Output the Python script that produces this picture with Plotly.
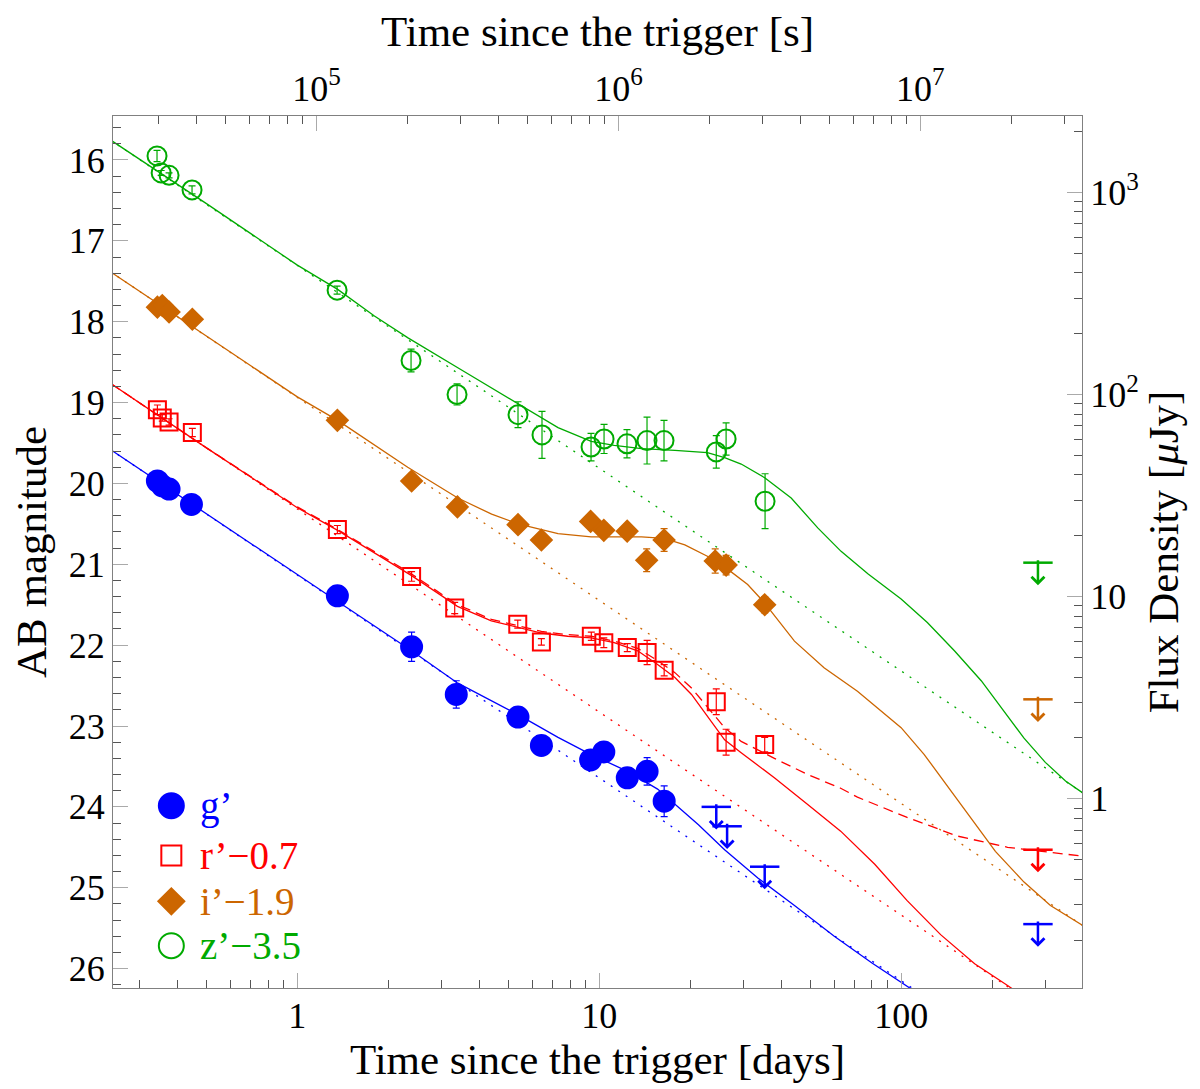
import numpy as np
import plotly.graph_objects as go

# ---- measured photometry (AB mag, offsets already applied) ----
g_t = [0.344, 0.357, 0.376, 0.446, 1.357, 2.39, 3.36, 5.38, 6.43, 9.36, 10.35, 12.38, 14.4, 16.4]
g_m = [19.97, 20.03, 20.07, 20.26, 21.39, 22.02, 22.61, 22.89, 23.24, 23.42, 23.32, 23.64, 23.56, 23.93]
g_e = [0.03, 0.03, 0.03, 0.04, 0.05, 0.18, 0.17, 0.06, 0.06, 0.07, 0.08, 0.07, 0.17, 0.19]
g_ul_t = [24.4, 26.5, 35.3, 283.6]
g_ul_m = [24.00, 24.24, 24.74, 25.45]

r_t = [0.344, 0.357, 0.376, 0.449, 1.357, 2.39, 3.32, 5.37, 6.43, 9.41, 10.35, 12.38, 14.4, 16.4, 24.4, 26.3, 35.3]
r_m = [19.09, 19.19, 19.24, 19.37, 20.57, 21.15, 21.54, 21.74, 21.96, 21.89, 21.97, 22.03, 22.09, 22.31, 22.70, 23.20, 23.23]
r_e = [0.06, 0.04, 0.04, 0.05, 0.05, 0.06, 0.07, 0.05, 0.04, 0.05, 0.06, 0.05, 0.15, 0.07, 0.16, 0.16, 0.09]
r_ul_t = [283.6]
r_ul_m = [24.53]

i_t = [0.344, 0.357, 0.376, 0.449, 1.357, 2.39, 3.39, 5.38, 6.43, 9.36, 10.35, 12.37, 14.35, 16.39, 24.2, 26.3, 35.3]
i_m = [17.82, 17.80, 17.88, 17.97, 19.22, 19.97, 20.29, 20.51, 20.70, 20.47, 20.58, 20.59, 20.95, 20.70, 20.96, 21.01, 21.50]
i_e = [0.03, 0.03, 0.03, 0.03, 0.04, 0.05, 0.07, 0.05, 0.05, 0.06, 0.09, 0.05, 0.14, 0.14, 0.15, 0.12, 0.10]
i_ul_t = [283.6]
i_ul_m = [22.67]

z_t = [0.343, 0.354, 0.376, 0.448, 1.354, 2.38, 3.38, 5.38, 6.46, 9.39, 10.37, 12.35, 14.39, 16.38, 24.4, 26.3, 35.4]
z_m = [15.95, 16.16, 16.19, 16.37, 17.61, 18.48, 18.90, 19.15, 19.40, 19.55, 19.45, 19.51, 19.47, 19.47, 19.61, 19.45, 20.22]
z_e = [0.07, 0.03, 0.03, 0.05, 0.05, 0.14, 0.13, 0.16, 0.29, 0.17, 0.18, 0.175, 0.29, 0.25, 0.20, 0.20, 0.34]
z_ul_t = [283.6]
z_ul_m = [20.98]

# ---- model curves ----
g_fit_t = [0.24, 0.5, 1.0, 1.36, 2.39, 3.4, 5.38, 7.3, 9.36, 12.4, 15.6, 18.3, 21.3, 26, 33.5, 44.3, 60, 80, 104.6, 150, 220]
g_fit_m = [19.58, 20.38, 21.13, 21.46, 22.07, 22.47, 22.86, 23.14, 23.35, 23.56, 23.78, 24.01, 24.22, 24.53, 24.88, 25.22, 25.60, 25.93, 26.22, 26.60, 27.02]
g_pl_t = [0.24, 400]
g_pl_m = [19.58, 27.66]

r_fit_t = [0.24, 0.5, 1.0, 1.36, 2.39, 3.39, 4.39, 5.38, 6.43, 7.86, 9.4, 11.2, 13.4, 15.6, 17.8, 20.2, 22.8, 26, 29.5, 38, 49, 63, 81.7, 104.6, 135, 175, 225, 300, 400]
r_fit_m = [18.76, 19.56, 20.30, 20.58, 21.14, 21.52, 21.70, 21.78, 21.85, 21.89, 21.91, 21.97, 22.07, 22.24, 22.40, 22.61, 22.88, 23.17, 23.33, 23.64, 23.97, 24.30, 24.71, 25.16, 25.58, 25.94, 26.21, 26.53, 26.85]
r_host_t = [0.24, 0.5, 1.0, 1.36, 2.39, 3.39, 4.39, 5.38, 6.43, 7.86, 9.4, 11.2, 13.4, 15.6, 17.8, 20.2, 22.8, 26, 29.5, 38, 49, 63, 71.6, 104.6, 153, 225, 400]
r_host_m = [18.76, 19.56, 20.29, 20.57, 21.12, 21.50, 21.68, 21.76, 21.83, 21.87, 21.89, 21.95, 22.04, 22.19, 22.34, 22.53, 22.76, 23.02, 23.19, 23.40, 23.60, 23.77, 23.88, 24.13, 24.36, 24.50, 24.61]
r_pl_t = [0.24, 400]
r_pl_m = [18.76, 26.85]

i_fit_t = [0.24, 0.5, 1.0, 1.36, 2.05, 2.32, 3.4, 4.4, 5.38, 7.3, 9.4, 13.8, 16.4, 19.2, 22.8, 26.6, 31, 35.3, 44.3, 55.5, 71.6, 90, 99.9, 119, 135, 150, 175, 205, 255, 312, 400]
i_fit_m = [17.38, 18.18, 18.93, 19.22, 19.66, 19.80, 20.18, 20.38, 20.50, 20.62, 20.66, 20.66, 20.68, 20.76, 20.90, 21.06, 21.25, 21.48, 21.95, 22.28, 22.57, 22.88, 23.02, 23.35, 23.62, 23.86, 24.20, 24.55, 24.93, 25.22, 25.47]
i_pl_t = [0.24, 400]
i_pl_m = [17.38, 25.47]

z_fit_t = [0.24, 0.5, 1.0, 1.36, 1.8, 2.325, 3.4, 5.38, 7.3, 9.4, 11.2, 13.8, 17.8, 22.8, 26, 29.5, 35.3, 43.2, 52.9, 63.2, 77.7, 99.9, 122, 150, 184, 219, 255, 300, 350, 400]
z_fit_m = [15.75, 16.54, 17.30, 17.60, 17.93, 18.20, 18.57, 19.02, 19.31, 19.48, 19.53, 19.57, 19.59, 19.62, 19.68, 19.76, 19.93, 20.18, 20.55, 20.84, 21.12, 21.43, 21.72, 22.07, 22.44, 22.82, 23.15, 23.45, 23.68, 23.83]
z_pl_t = [0.24, 400]
z_pl_m = [15.75, 23.83]

BLUE = "#0000FF"
RED = "#FF0000"
ORANGE = "#CC6600"
GREEN = "#00AA00"
FONT = "Liberation Serif"

# axis limits: days and AB magnitude
X_LO, X_HI = -0.6105, 2.5986   # log10(days)
M_BOTTOM, M_TOP = 26.24, 15.456
LOG_DAY = np.log10(86400.0)

fig = go.Figure()

bands = [
    (g_t, g_m, g_e, g_ul_t, g_ul_m, g_fit_t, g_fit_m, g_pl_t, g_pl_m, BLUE, "circle", 21),
    (r_t, r_m, r_e, r_ul_t, r_ul_m, r_fit_t, r_fit_m, r_pl_t, r_pl_m, RED, "square-open", 17),
    (i_t, i_m, i_e, i_ul_t, i_ul_m, i_fit_t, i_fit_m, i_pl_t, i_pl_m, ORANGE, "diamond", 16),
    (z_t, z_m, z_e, z_ul_t, z_ul_m, z_fit_t, z_fit_m, z_pl_t, z_pl_m, GREEN, "circle-open", 19),
]

for t, m, e, ul_t, ul_m, fit_t, fit_m, pl_t, pl_m, c, sym, size in bands:
    # power-law (dotted) and full model (solid)
    fig.add_trace(go.Scatter(x=pl_t, y=pl_m, mode="lines",
                             line=dict(color=c, width=1.3, dash="2px,7px"), hoverinfo="skip"))
    fig.add_trace(go.Scatter(x=fit_t, y=fit_m, mode="lines",
                             line=dict(color=c, width=1.3), hoverinfo="skip"))
    if c == RED:
        fig.add_trace(go.Scatter(x=r_host_t, y=r_host_m, mode="lines",
                                 line=dict(color=c, width=1.3, dash="10px,6px"), hoverinfo="skip"))
    fig.add_trace(go.Scatter(
        x=t, y=m, mode="markers",
        error_y=dict(type="data", array=e, color=c, thickness=1.2, width=3.5),
        marker=dict(symbol=sym, size=size, color=c, opacity=1, line=dict(color=c, width=2)),
    ))
    # upper limits: bar + arrow
    fig.add_trace(go.Scatter(
        x=ul_t, y=ul_m, mode="markers",
        marker=dict(symbol="line-ew", size=21, line=dict(color=c, width=2.5)),
        hoverinfo="skip",
    ))
    for ut, um in zip(ul_t, ul_m):
        fig.add_annotation(x=np.log10(ut), y=um + 0.28, ax=np.log10(ut), ay=um - 0.05,
                           xref="x", yref="y", axref="x", ayref="y", text="",
                           showarrow=True, arrowhead=4, arrowsize=1, arrowwidth=2.5,
                           arrowcolor=c)

# invisible anchors for the secondary (seconds / flux) axes
fig.add_trace(go.Scatter(x=[g_t[0] * 86400], y=[g_m[0]], xaxis="x2", yaxis="y",
                         mode="markers", marker=dict(opacity=0), hoverinfo="skip"))
fig.add_trace(go.Scatter(x=[g_t[0]], y=[10 ** ((23.9 - g_m[0]) / 2.5)], xaxis="x", yaxis="y2",
                         mode="markers", marker=dict(opacity=0), hoverinfo="skip"))

# legend drawn by hand (big markers, coloured labels)
leg_labels = ["g’", "r’−0.7", "i’−1.9", "z’−3.5"]
leg_colors = [BLUE, RED, ORANGE, GREEN]
leg_symbols = ["circle", "square-open", "diamond", "circle-open"]
leg_sizes = [25, 20, 20, 25]
leg_y = [0.209, 0.152, 0.0994, 0.0485]
fig.add_trace(go.Scatter(
    x=[0.0602] * 4, y=leg_y, xaxis="x3", yaxis="y3", mode="markers",
    marker=dict(symbol=leg_symbols, size=leg_sizes, color=leg_colors, opacity=1,
                line=dict(color=leg_colors, width=2)),
    cliponaxis=False, hoverinfo="skip",
))
for lab, col, yy in zip(leg_labels, leg_colors, leg_y):
    fig.add_annotation(x=0.0877, y=yy, xref="paper", yref="paper", text=lab,
                       showarrow=False, xanchor="left", yanchor="middle",
                       font=dict(family=FONT, size=39, color=col))

tick_font = dict(family=FONT, size=36, color="black")
title_font = dict(family=FONT, size=43, color="black")
ax_common = dict(
    showline=True, linecolor="#808080", linewidth=1, showgrid=False, zeroline=False,
    ticks="inside", ticklen=15, tickwidth=1, tickcolor="#aaaaaa", tickfont=tick_font,
)
minor_common = dict(ticks="inside", ticklen=8, tickwidth=1, tickcolor="#555555", showgrid=False)

day_minor = [k * 10.0 ** e for e in range(-1, 3) for k in range(2, 10)]
sec_minor = [k * 10.0 ** e for e in range(4, 8) for k in range(2, 10)]
flux_minor = [k * 10.0 ** e for e in range(-1, 4) for k in range(2, 10)]

fig.update_layout(
    width=1200, height=1089,
    margin=dict(l=105, r=126, t=108, b=109),
    plot_bgcolor="white", paper_bgcolor="white",
    showlegend=False,
    font=dict(family=FONT, size=36, color="black"),
    xaxis=dict(
        ax_common, type="log", range=[X_LO, X_HI], side="bottom",
        tickvals=[1, 10, 100], ticktext=["1", "10", "100"], ticklabelstandoff=-4,
        minor=dict(minor_common, tickvals=day_minor),
        title=dict(text="Time since the trigger [days]", font=title_font, standoff=4),
    ),
    xaxis2=dict(
        ax_common, type="log", range=[X_LO + LOG_DAY, X_HI + LOG_DAY], side="top",
        overlaying="x", anchor="y",
        tickvals=[1e5, 1e6, 1e7], ticktext=["10<sup>5</sup>", "10<sup>6</sup>", "10<sup>7</sup>"],
        minor=dict(minor_common, tickvals=sec_minor),
        title=dict(text="Time since the trigger [s]", font=title_font, standoff=14),
    ),
    yaxis=dict(
        ax_common, range=[M_BOTTOM, M_TOP], side="left",
        tickvals=list(range(16, 27)),
        minor=dict(minor_common, dtick=0.2, tick0=16),
        title=dict(text="AB magnitude", font=title_font, standoff=8),
    ),
    yaxis2=dict(
        ax_common, type="log", side="right", overlaying="y", anchor="x",
        range=[(23.9 - M_BOTTOM) / 2.5, (23.9 - M_TOP) / 2.5],
        tickvals=[1, 10, 100, 1000], ticktext=["1", "10", "10<sup>2</sup>", "10<sup>3</sup>"],
        minor=dict(minor_common, tickvals=flux_minor),
        title=dict(text="Flux Density [<i>μ</i>Jy]", font=title_font, standoff=10),
    ),
    xaxis3=dict(overlaying="x", range=[0, 1], visible=False),
    yaxis3=dict(overlaying="y", range=[0, 1], visible=False),
)

fig.write_html("out.html")
